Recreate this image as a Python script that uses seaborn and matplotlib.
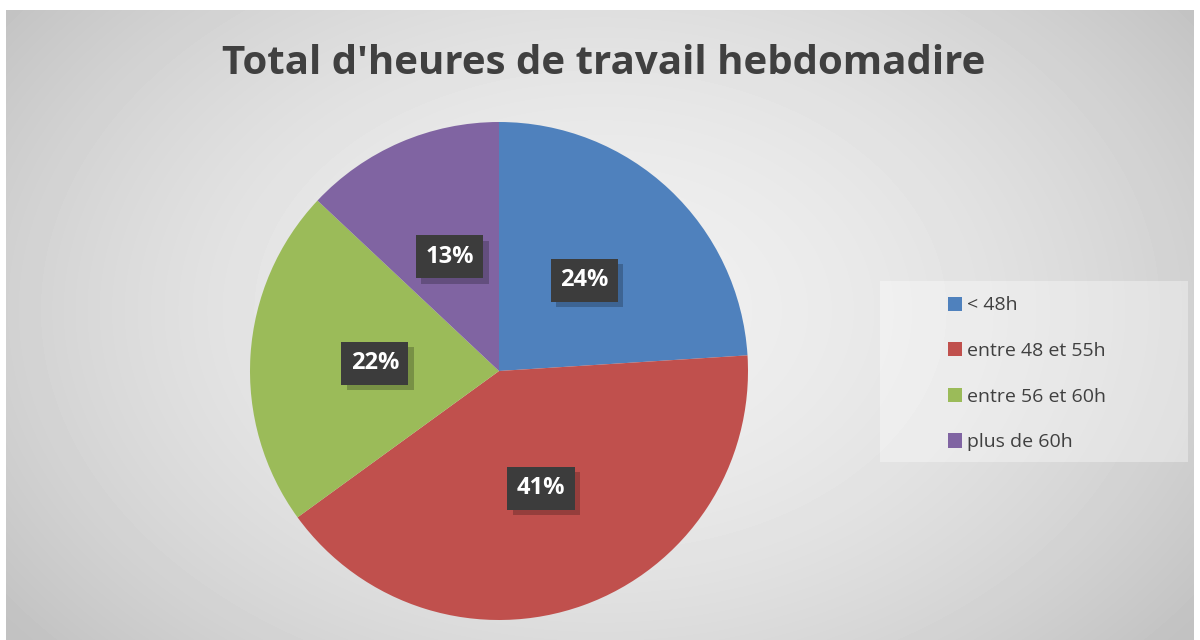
import numpy as np
import matplotlib
matplotlib.use("Agg")
import matplotlib.pyplot as plt
import matplotlib.patheffects as pe
from matplotlib.patches import Rectangle
import seaborn as sns

# data
categories = ["< 48h", "entre 48 et 55h", "entre 56 et 60h", "plus de 60h"]
shares = [24, 41, 22, 13]
slice_colors = ["#4f81bd", "#c0504d", "#9bbb59", "#8064a2"]
title = "Total d'heures de travail hebdomadire"

sns.set_theme(style="white")
plt.rcParams['font.family'] = ['Open Sans', 'DejaVu Sans']
palette = sns.color_palette(slice_colors)

fig = plt.figure(figsize=(12, 6.4), dpi=100)
fig.patch.set_facecolor("white")

# radial grey background of the chart area
bg = fig.add_axes([6 / 1200, 0, 1188 / 1200, 1 - 10 / 640])
yy, xx = np.mgrid[0:630, 0:1188]
dist = np.sqrt(((xx - 594) / 720) ** 2 + ((yy - 300) / 500) ** 2)
shade = np.clip(0.94 - 0.17 * dist ** 1.8, 0.76, 0.94)
bg.imshow(shade, cmap="gray", vmin=0, vmax=1, aspect="auto")
bg.set_axis_off()

# pie: centre ~ (499, 371) px, radius ~ 249 px
cx, cy, r = 499, 371, 249
ax = fig.add_axes([(cx - r) / 1200, 1 - (cy + r) / 640, 2 * r / 1200, 2 * r / 640])
wedges, _, autotexts = ax.pie(
    shares, colors=palette, startangle=90, counterclock=False,
    autopct="%d%%", pctdistance=0.5, radius=1.0,
    wedgeprops=dict(linewidth=0),
    textprops=dict(color="white", fontsize=17, fontweight="bold"),
)
for t in autotexts:
    t.set_bbox(dict(boxstyle="square,pad=0.4", facecolor="#3c3c3c", edgecolor="none"))
    t.get_bbox_patch().set_path_effects(
        [pe.SimplePatchShadow(offset=(4, -4), shadow_rgbFace="black", alpha=0.22), pe.Normal()]
    )
ax.set_xlim(-1, 1)
ax.set_ylim(-1, 1)
ax.set_aspect("equal")
ax.set_axis_off()

fig.text(604 / 1200, 1 - 64 / 640, title, ha="center", va="center",
         fontsize=29, fontweight="bold", color="#404040")

# legend box
fig.patches.append(Rectangle((880 / 1200, 1 - 462 / 640), 308 / 1200, 181 / 640,
                             transform=fig.transFigure, facecolor="white",
                             alpha=0.35, edgecolor="none", zorder=1))
leg = fig.legend(wedges, categories, loc="upper left",
                 bbox_to_anchor=(930 / 1200, 1 - 279 / 640), frameon=False,
                 fontsize=14, labelcolor="#404040", handlelength=0.75,
                 handleheight=0.75, handletextpad=0.25, labelspacing=1.42)

fig.savefig("out.png", dpi=100)
